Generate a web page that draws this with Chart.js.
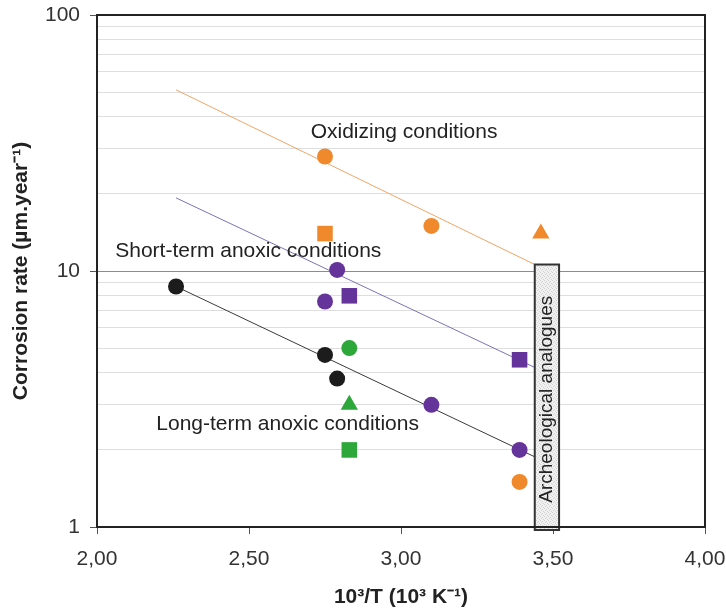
<!DOCTYPE html>
<html>
<head>
<meta charset="utf-8">
<script src="https://cdn.jsdelivr.net/npm/chart.js@4"></script>
<style>
  html, body { margin: 0; padding: 0; background: #fff; }
</style>
</head>
<body>
<canvas id="myChart" width="726" height="614"></canvas>
<script>
// axis ticks
const xTicks = [2.0, 2.5, 3.0, 3.5, 4.0];
const yTicks = [1, 2, 3, 4, 5, 6, 7, 8, 9, 10, 20, 30, 40, 50, 60, 70, 80, 90, 100];
const yLabelled = [1, 10, 100];

// oxidizing conditions (orange)
const oxCircleX = [2.75, 3.10, 3.39];
const oxCircleY = [28, 15, 1.5];
const oxSquareX = [2.75];
const oxSquareY = [14];
const oxTriangleX = [3.46];
const oxTriangleY = [14];
const oxFitX = [2.26, 3.44];
const oxFitY = [51, 10.6];

// short-term anoxic conditions (purple)
const stCircleX = [2.79, 2.75, 3.10, 3.39];
const stCircleY = [10.1, 7.6, 3.0, 2.0];
const stSquareX = [2.83, 3.39];
const stSquareY = [8.0, 4.5];
const stFitX = [2.26, 3.44];
const stFitY = [19.3, 4.2];

// long-term anoxic conditions (black)
const ltCircleX = [2.26, 2.75, 2.79];
const ltCircleY = [8.7, 4.7, 3.8];
const ltFitX = [2.26, 3.44];
const ltFitY = [8.7, 1.88];

// green series
const grCircleX = [2.83];
const grCircleY = [5.0];
const grTriangleX = [2.83];
const grTriangleY = [3.0];
const grSquareX = [2.83];
const grSquareY = [2.0];

// archeological analogues range
const archeoX = [3.44, 3.52];
const archeoY = [1, 10.6];

const FONT = "'Liberation Sans', Arial, sans-serif";
const ORANGE = "#f0892c";
const PURPLE = "#65349a";
const GREEN = "#2da63a";
const BLACK = "#1c1c1c";

const pts = (xs, ys) => xs.map((x, i) => ({ x: x, y: ys[i] }));

const marker = (xs, ys, color, style, radius) => ({
  data: pts(xs, ys),
  pointStyle: style,
  pointRadius: radius,
  backgroundColor: color,
  borderColor: color,
  pointBorderWidth: 0,
  showLine: false,
  order: 1,
});

const fitLine = (xs, ys, color) => ({
  data: pts(xs, ys),
  showLine: true,
  borderColor: color,
  borderWidth: 1,
  pointRadius: 0,
  order: 5,
});

// text placed in data space
const notes = [
  { text: "Oxidizing conditions", x: 3.01, y: 35, align: "center" },
  { text: "Short-term anoxic conditions", x: 2.06, y: 11.9, align: "left" },
  { text: "Long-term anoxic conditions", x: 2.195, y: 2.53, align: "left" },
];

const makeStipple = (ctx) => {
  const c = document.createElement("canvas");
  c.width = 4;
  c.height = 4;
  const p = c.getContext("2d");
  p.fillStyle = "#f1f1f1";
  p.fillRect(0, 0, 4, 4);
  p.fillStyle = "#d2d2d2";
  p.fillRect(0, 0, 1, 1);
  p.fillRect(2, 1, 1, 1);
  p.fillRect(1, 2, 1, 1);
  p.fillRect(3, 3, 1, 1);
  return ctx.createPattern(c, "repeat");
};

// keep label overhang from shrinking the plot area
const noOverhang = (scale) => {
  scale.paddingLeft = 0;
  scale.paddingRight = 0;
  scale.paddingTop = 0;
  scale.paddingBottom = 0;
};

const decorations = {
  id: "decorations",
  afterDatasetsDraw(chart) {
    const { ctx, scales } = chart;
    const x0 = scales.x.getPixelForValue(archeoX[0]);
    const x1 = scales.x.getPixelForValue(archeoX[1]);
    const y0 = scales.y.getPixelForValue(archeoY[1]);
    const y1 = scales.y.getPixelForValue(archeoY[0]) + 3;
    ctx.save();
    ctx.fillStyle = makeStipple(ctx);
    ctx.fillRect(x0, y0, x1 - x0, y1 - y0);
    ctx.lineWidth = 2;
    ctx.strokeStyle = "#333";
    ctx.strokeRect(x0, y0, x1 - x0, y1 - y0);
    ctx.translate((x0 + x1) / 2, (y0 + y1) / 2 + 2);
    ctx.rotate(-Math.PI / 2);
    ctx.fillStyle = "#222";
    ctx.font = "19px " + FONT;
    ctx.textAlign = "center";
    ctx.textBaseline = "middle";
    ctx.fillText("Archeological analogues", 0, 0);
    ctx.restore();
  },
  afterDraw(chart) {
    const { ctx, chartArea, scales } = chart;
    ctx.save();
    ctx.lineWidth = 2;
    ctx.strokeStyle = "#222";
    ctx.strokeRect(chartArea.left, chartArea.top, chartArea.right - chartArea.left, chartArea.bottom - chartArea.top);
    ctx.fillStyle = "#222";
    ctx.font = "21px " + FONT;
    ctx.textBaseline = "middle";
    notes.forEach((n) => {
      ctx.textAlign = n.align;
      ctx.fillText(n.text, scales.x.getPixelForValue(n.x), scales.y.getPixelForValue(n.y));
    });
    ctx.restore();
  },
};

const config = {
  type: "scatter",
  data: {
    datasets: [
      marker(oxCircleX, oxCircleY, ORANGE, "circle", 8),
      marker(oxSquareX, oxSquareY, ORANGE, "rect", 11),
      marker(oxTriangleX, oxTriangleY, ORANGE, "triangle", 10),
      marker(stCircleX, stCircleY, PURPLE, "circle", 8),
      marker(stSquareX, stSquareY, PURPLE, "rect", 11),
      marker(ltCircleX, ltCircleY, BLACK, "circle", 8),
      marker(grCircleX, grCircleY, GREEN, "circle", 8),
      marker(grTriangleX, grTriangleY, GREEN, "triangle", 10),
      marker(grSquareX, grSquareY, GREEN, "rect", 11),
      fitLine(oxFitX, oxFitY, "#f3a466"),
      fitLine(stFitX, stFitY, "#7d72b6"),
      fitLine(ltFitX, ltFitY, "#3a3a3a"),
    ],
  },
  options: {
    responsive: false,
    animation: false,
    layout: { padding: { top: 15, right: 21, left: 0, bottom: 0 } },
    plugins: {
      legend: { display: false },
      tooltip: { enabled: false },
    },
    scales: {
      x: {
        type: "linear",
        min: 2,
        max: 4,
        afterBuildTicks: (scale) => {
          scale.ticks = xTicks.map((v) => ({ value: v }));
        },
        afterFit: (scale) => {
          scale.height = 87;
          noOverhang(scale);
        },
        ticks: {
          color: "#333",
          padding: 13,
          font: { family: FONT, size: 21 },
          callback: (v) => v.toFixed(2).replace(".", ","),
        },
        grid: { drawOnChartArea: false, tickLength: 7, tickColor: "#555" },
        border: { display: false },
        title: {
          display: true,
          text: "10³/T (10³ K⁻¹)",
          color: "#222",
          font: { family: FONT, size: 21, weight: "bold" },
          padding: { top: 0, bottom: 4 },
        },
      },
      y: {
        type: "logarithmic",
        min: 1,
        max: 100,
        afterBuildTicks: (scale) => {
          scale.ticks = yTicks.map((v) => ({ value: v }));
        },
        afterFit: (scale) => {
          scale.width = 97;
          noOverhang(scale);
        },
        ticks: {
          color: "#333",
          padding: 10,
          autoSkip: false,
          font: { family: FONT, size: 21 },
          callback: (v) => (yLabelled.includes(v) ? String(v) : ""),
        },
        grid: {
          tickLength: 7,
          color: (ctx) => (ctx.tick && ctx.tick.value === 10 ? "#8c8c8c" : "#dedede"),
          tickColor: (ctx) => (ctx.tick && yLabelled.includes(ctx.tick.value) ? "#555" : "rgba(0,0,0,0)"),
        },
        border: { display: false },
        title: {
          display: true,
          text: "Corrosion rate (µm.year⁻¹)",
          color: "#222",
          font: { family: FONT, size: 21, weight: "bold" },
          padding: { top: 9, bottom: 0 },
        },
      },
    },
  },
  plugins: [decorations],
};

const myChart = new Chart(document.getElementById("myChart"), config);
</script>
</body>
</html>
